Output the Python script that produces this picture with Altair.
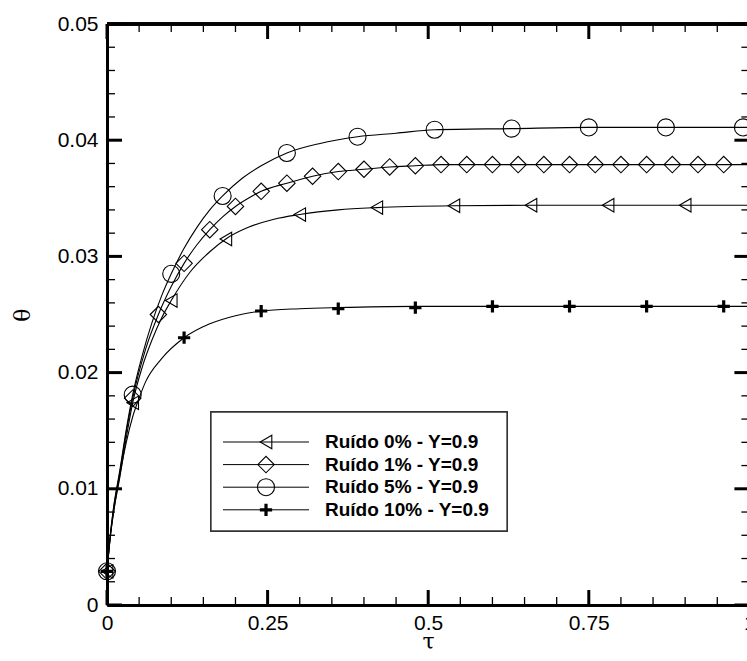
import altair as alt
import pandas as pd

# ---------------- curve samples (tau, theta), Y = 0.9 ----------------
tau_r0 = [0, 0.005, 0.01, 0.02, 0.03, 0.04, 0.055, 0.07, 0.085, 0.10, 0.13, 0.16,
          0.185, 0.22, 0.26, 0.30, 0.36, 0.42, 0.54, 0.66, 0.78, 0.90, 1.0]
theta_r0 = [0.0029, 0.0058, 0.0079, 0.0110, 0.0144, 0.0174, 0.0205, 0.0228, 0.0247,
            0.0262, 0.0287, 0.0304, 0.0315, 0.0325, 0.0332, 0.0336, 0.0340, 0.0342,
            0.03436, 0.0344, 0.0344, 0.0344, 0.0344]

tau_r1 = [0, 0.005, 0.01, 0.02, 0.03, 0.04, 0.06, 0.08, 0.10, 0.12, 0.14, 0.16, 0.18,
          0.20, 0.22, 0.24, 0.28, 0.32, 0.36, 0.40, 0.44, 0.48, 0.52, 0.56, 0.60,
          0.64, 0.68, 0.72, 0.76, 0.80, 0.84, 0.88, 0.92, 0.96, 1.0]
theta_r1 = [0.0029, 0.0059, 0.0082, 0.0114, 0.0149, 0.0178, 0.0220, 0.0250, 0.0274,
            0.0294, 0.0310, 0.0323, 0.0334, 0.0343, 0.0350, 0.0356, 0.0363, 0.0369,
            0.0373, 0.0375, 0.0377, 0.0378, 0.0379, 0.0379, 0.0379, 0.0379, 0.0379,
            0.0379, 0.0379, 0.0379, 0.0379, 0.0379, 0.0379, 0.0379, 0.0379]

tau_r5 = [0, 0.005, 0.01, 0.02, 0.03, 0.04, 0.055, 0.07, 0.085, 0.10, 0.12, 0.14,
          0.16, 0.18, 0.21, 0.24, 0.28, 0.33, 0.39, 0.45, 0.51, 0.63, 0.75, 0.87,
          0.99, 1.0]
theta_r5 = [0.0029, 0.0060, 0.0083, 0.0116, 0.0151, 0.0181, 0.0215, 0.0243, 0.0266,
            0.0285, 0.0307, 0.0325, 0.0340, 0.0352, 0.0367, 0.0378, 0.0389, 0.0397,
            0.0403, 0.0406, 0.0409, 0.0410, 0.0411, 0.0411, 0.0411, 0.0411]

tau_r10 = [0, 0.005, 0.01, 0.02, 0.03, 0.04, 0.05, 0.06, 0.085, 0.12, 0.16, 0.20,
           0.24, 0.30, 0.36, 0.48, 0.60, 0.72, 0.84, 0.96, 1.0]
theta_r10 = [0.0029, 0.0058, 0.0079, 0.0112, 0.0140, 0.0162, 0.0178, 0.0192, 0.0212,
             0.0230, 0.0242, 0.0249, 0.0253, 0.0255, 0.0256, 0.0257, 0.0257, 0.0257,
             0.0257, 0.0257, 0.0257]

# ---------------- symbol positions ----------------
mk_tau_r0 = [0, 0.04, 0.10, 0.185, 0.30, 0.42, 0.54, 0.66, 0.78, 0.90]
mk_theta_r0 = [0.0029, 0.0174, 0.0262, 0.0315, 0.0336, 0.0342, 0.03436, 0.0344,
               0.0344, 0.0344]

mk_tau_r1 = [0, 0.04, 0.08, 0.12, 0.16, 0.20, 0.24, 0.28, 0.32, 0.36, 0.40, 0.44,
             0.48, 0.52, 0.56, 0.60, 0.64, 0.68, 0.72, 0.76, 0.80, 0.84, 0.88,
             0.92, 0.96]
mk_theta_r1 = [0.0029, 0.0178, 0.0250, 0.0294, 0.0323, 0.0343, 0.0356, 0.0363,
               0.0369, 0.0373, 0.0375, 0.0377, 0.0378, 0.0379, 0.0379, 0.0379,
               0.0379, 0.0379, 0.0379, 0.0379, 0.0379, 0.0379, 0.0379, 0.0379,
               0.0379]

mk_tau_r5 = [0, 0.04, 0.10, 0.18, 0.28, 0.39, 0.51, 0.63, 0.75, 0.87, 0.99]
mk_theta_r5 = [0.0029, 0.0181, 0.0285, 0.0352, 0.0389, 0.0403, 0.0409, 0.0410,
               0.0411, 0.0411, 0.0411]

mk_tau_r10 = [0, 0.12, 0.24, 0.36, 0.48, 0.60, 0.72, 0.84, 0.96]
mk_theta_r10 = [0.0029, 0.0230, 0.0253, 0.0255, 0.0256, 0.0257, 0.0257, 0.0257,
                0.0257]

labels = ["Ruído 0% - Y=0.9", "Ruído 1% - Y=0.9", "Ruído 5% - Y=0.9",
          "Ruído 10% - Y=0.9"]

# ---------------- axis ticks ----------------
x_major = [0, 0.25, 0.5, 0.75, 1.0]
x_minor = [0.05, 0.1, 0.15, 0.2, 0.3, 0.35, 0.4, 0.45, 0.55, 0.6, 0.65, 0.7,
           0.8, 0.85, 0.9, 0.95]
y_major = [0, 0.01, 0.02, 0.03, 0.04, 0.05]
y_minor = [0.002, 0.004, 0.006, 0.008, 0.012, 0.014, 0.016, 0.018, 0.022, 0.024,
           0.026, 0.028, 0.032, 0.034, 0.036, 0.038, 0.042, 0.044, 0.046, 0.048]

# ---------------- layout ----------------
W, H = 640, 581
X_END = 642.4          # pixel position of tau = 1 (frame continues past the canvas)
MAJOR, MINOR = 15, 8
FONT = "Liberation Sans"
LABEL_EXPR = "toString(datum.value)"

x_scale = alt.Scale(domain=[0, 1], range=[0, X_END], nice=False, zero=False)
y_scale = alt.Scale(domain=[0, 0.05], nice=False, zero=False)

x_axis = alt.Axis(values=x_major, labelExpr=LABEL_EXPR, ticks=False, tickSize=0,
                  grid=False, domainColor="black", domainWidth=3, labelFont=FONT,
                  labelFontSize=21, labelColor="black", labelPadding=7,
                  labelFlush=False, labelOverlap=False, titleFont="DejaVu Serif",
                  titleFontSize=22, titleFontWeight="normal", titleColor="black",
                  titlePadding=-2)
y_axis = alt.Axis(values=y_major, labelExpr=LABEL_EXPR, ticks=False, tickSize=0,
                  grid=False, domainColor="black", domainWidth=3, labelFont=FONT,
                  labelFontSize=21, labelColor="black", labelPadding=9,
                  labelFlush=False, labelOverlap=False, titleFont="DejaVu Serif",
                  titleFontSize=22, titleFontWeight="normal", titleColor="black",
                  titlePadding=23)


def X(field="tau"):
    return alt.X(f"{field}:Q", scale=x_scale, axis=x_axis, title="τ")


def Y(field="theta"):
    return alt.Y(f"{field}:Q", scale=y_scale, axis=y_axis, title="θ")


curves = [(tau_r0, theta_r0), (tau_r1, theta_r1), (tau_r5, theta_r5),
          (tau_r10, theta_r10)]
markers = [(mk_tau_r0, mk_theta_r0), (mk_tau_r1, mk_theta_r1),
           (mk_tau_r5, mk_theta_r5), (mk_tau_r10, mk_theta_r10)]

PLUS = "M-1,0H1M0,-1V1"
styles = [
    dict(shape="triangle-left", size=180, strokeWidth=1.1),
    dict(shape="diamond", size=270, strokeWidth=1.1),
    dict(shape="circle", size=290, strokeWidth=1.1),
    dict(shape=PLUS, size=150, strokeWidth=3.2),
]

line_df = pd.concat(
    [pd.DataFrame({"tau": t, "theta": th, "serie": lab})
     for (t, th), lab in zip(curves, labels)],
    ignore_index=True,
)

layers = []

# simulated curves
layers.append(
    alt.Chart(line_df).mark_line(interpolate="monotone", color="black",
                                 strokeWidth=1.1)
    .encode(x=X(), y=Y(), detail="serie:N")
)

# symbols along each curve
for (t, th), lab, st in zip(markers, labels, styles):
    df = pd.DataFrame({"tau": t, "theta": th, "serie": lab})
    layers.append(
        alt.Chart(df).mark_point(shape=st["shape"], size=st["size"], filled=False,
                                 color="black", strokeWidth=st["strokeWidth"],
                                 opacity=1)
        .encode(x=X(), y=Y())
    )

# inward-pointing tick marks on all sides of the frame
xmaj = pd.DataFrame({"tau": x_major})
xmin = pd.DataFrame({"tau": x_minor})
ymaj = pd.DataFrame({"theta": y_major})
ymin = pd.DataFrame({"theta": y_minor})

for df, ln, sw in [(xmaj, MAJOR, 3), (xmin, MINOR, 1.3)]:
    layers.append(alt.Chart(df).mark_rule(color="black", strokeWidth=sw)
                  .encode(x=X(), y=alt.value(H), y2=alt.value(H - ln)))
    layers.append(alt.Chart(df).mark_rule(color="black", strokeWidth=sw)
                  .encode(x=X(), y=alt.value(0), y2=alt.value(ln)))
for df, ln, sw in [(ymaj, MAJOR, 3), (ymin, MINOR, 1.3)]:
    layers.append(alt.Chart(df).mark_rule(color="black", strokeWidth=sw)
                  .encode(y=Y(), x=alt.value(0), x2=alt.value(ln)))
    layers.append(alt.Chart(df).mark_rule(color="black", strokeWidth=sw)
                  .encode(y=Y(), x=alt.value(X_END), x2=alt.value(X_END - ln)))

# top edge of the frame
layers.append(
    alt.Chart(xmaj).mark_rule(color="black", strokeWidth=3)
    .encode(x=alt.value(0), x2=alt.value(X_END), y=alt.value(0))
)

# legend box
LEG_X0, LEG_X1, LEG_Y0, LEG_Y1 = 104, 400, 388, 507
ROW0, ROW_STEP = 418, 22.6
SYM_L, SYM_R, TXT_X = 116, 202, 218

layers.append(
    alt.Chart(xmaj).mark_rect(fill="white", stroke="#333333", strokeWidth=1.3)
    .encode(x=alt.value(LEG_X0), x2=alt.value(LEG_X1),
            y=alt.value(LEG_Y0), y2=alt.value(LEG_Y1))
)
for i, (lab, st) in enumerate(zip(labels, styles)):
    row_y = ROW0 + i * ROW_STEP
    row_df = pd.DataFrame({"label": [lab]})
    layers.append(
        alt.Chart(row_df).mark_rule(color="black", strokeWidth=1)
        .encode(x=alt.value(SYM_L), x2=alt.value(SYM_R), y=alt.value(row_y))
    )
    layers.append(
        alt.Chart(row_df).mark_point(shape=st["shape"], size=st["size"],
                                     filled=False, color="black",
                                     strokeWidth=st["strokeWidth"], opacity=1)
        .encode(x=alt.value((SYM_L + SYM_R) / 2), y=alt.value(row_y))
    )
    layers.append(
        alt.Chart(row_df).mark_text(align="left", baseline="middle", font=FONT,
                                    fontSize=19, fontWeight="bold", color="black")
        .encode(x=alt.value(TXT_X), y=alt.value(row_y), text="label:N")
    )

chart = (
    alt.layer(*layers)
    .properties(width=W, height=H,
                padding={"left": 107, "top": 24, "right": 0, "bottom": 56},
                autosize=alt.AutoSizeParams(type="none"))
    .configure_view(strokeWidth=0)
)

chart.save("out.html", embed_options={"renderer": "svg", "actions": False})
